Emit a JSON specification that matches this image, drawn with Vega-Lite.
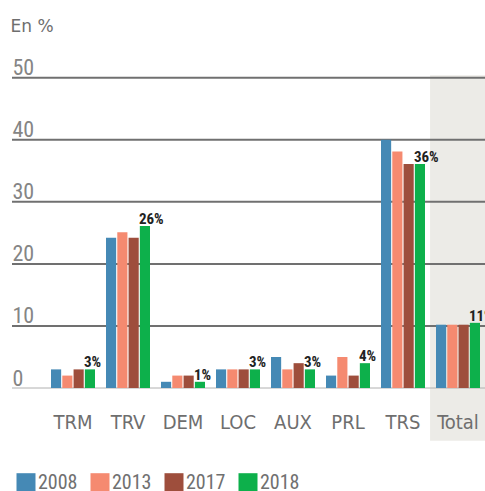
{
  "$schema": "https://vega.github.io/schema/vega-lite/v6.json",
  "width": 473.5,
  "height": 310.3,
  "autosize": {"type": "none"},
  "padding": {"left": 12, "top": 77.7, "right": 0, "bottom": 103},
  "background": "white",
  "config": {"view": {"stroke": null}},
  "datasets": {
    "bars": [
      {"cat": "TRM", "year": "2008", "value": 3.0},
      {"cat": "TRM", "year": "2013", "value": 2.0},
      {"cat": "TRM", "year": "2017", "value": 3.0},
      {"cat": "TRM", "year": "2018", "value": 3.0, "label": "3%"},
      {"cat": "TRV", "year": "2008", "value": 24.2},
      {"cat": "TRV", "year": "2013", "value": 25.1},
      {"cat": "TRV", "year": "2017", "value": 24.2},
      {"cat": "TRV", "year": "2018", "value": 26.1, "label": "26%"},
      {"cat": "DEM", "year": "2008", "value": 1.0},
      {"cat": "DEM", "year": "2013", "value": 2.0},
      {"cat": "DEM", "year": "2017", "value": 2.0},
      {"cat": "DEM", "year": "2018", "value": 1.0, "label": "1%"},
      {"cat": "LOC", "year": "2008", "value": 3.0},
      {"cat": "LOC", "year": "2013", "value": 3.0},
      {"cat": "LOC", "year": "2017", "value": 3.0},
      {"cat": "LOC", "year": "2018", "value": 3.0, "label": "3%"},
      {"cat": "AUX", "year": "2008", "value": 5.0},
      {"cat": "AUX", "year": "2013", "value": 3.0},
      {"cat": "AUX", "year": "2017", "value": 4.0},
      {"cat": "AUX", "year": "2018", "value": 3.0, "label": "3%"},
      {"cat": "PRL", "year": "2008", "value": 2.0},
      {"cat": "PRL", "year": "2013", "value": 5.0},
      {"cat": "PRL", "year": "2017", "value": 2.0},
      {"cat": "PRL", "year": "2018", "value": 4.0, "label": "4%"},
      {"cat": "TRS", "year": "2008", "value": 40.0},
      {"cat": "TRS", "year": "2013", "value": 38.1},
      {"cat": "TRS", "year": "2017", "value": 36.1},
      {"cat": "TRS", "year": "2018", "value": 36.1, "label": "36%"},
      {"cat": "Total", "year": "2008", "value": 10.2},
      {"cat": "Total", "year": "2013", "value": 10.2},
      {"cat": "Total", "year": "2017", "value": 10.2},
      {"cat": "Total", "year": "2018", "value": 10.5, "label": "11%"}
    ],
    "grid": [{"v": 0}, {"v": 10}, {"v": 20}, {"v": 30}, {"v": 40}, {"v": 50}]
  },
  "layer": [
    {
      "data": {"values": [{"cat": "Total"}]},
      "mark": {"type": "bar", "color": "#ECEBE7", "width": {"band": 1.27}},
      "encoding": {
        "x": {"field": "cat", "type": "nominal",
              "scale": {"domain": ["TRM", "TRV", "DEM", "LOC", "AUX", "PRL", "TRS", "Total"], "range": [33.5, 473.5], "paddingInner": 0.2, "paddingOuter": 0.1}},
        "y": {"datum": 50.4, "type": "quantitative", "scale": {"domain": [0, 50], "nice": false}},
        "y2": {"datum": -8.5}
      }
    },
    {
      "data": {"name": "grid"},
      "mark": {"type": "rule", "color": "#707070"},
      "encoding": {
        "x": {"value": 0},
        "x2": {"value": "width"},
        "y": {"field": "v", "type": "quantitative"},
        "strokeWidth": {"condition": {"test": "datum.v === 0", "value": 1}, "value": 2},
        "color": {"condition": {"test": "datum.v === 0", "value": "#b0b0b0"}, "value": "#707070"}
      }
    },
    {
      "data": {"name": "bars"},
      "mark": {"type": "bar"},
      "encoding": {
        "x": {"field": "cat", "type": "nominal",
              "scale": {"domain": ["TRM", "TRV", "DEM", "LOC", "AUX", "PRL", "TRS", "Total"], "range": [33.5, 473.5], "paddingInner": 0.2, "paddingOuter": 0.1},
              "axis": {"title": null, "domain": false, "ticks": false, "labelAngle": 0, "labelAlign": "center", "labelPadding": 40, "labelBaseline": "alphabetic", "zindex": 1,
                       "labelFont": "DejaVu Sans Condensed, DejaVu Sans", "labelFontSize": 20, "labelColor": "#6e6e6e"}},
        "xOffset": {"field": "year", "type": "nominal", "scale": {"domain": ["2008", "2013", "2017", "2018"], "paddingInner": 0.1, "paddingOuter": 0}},
        "y": {"field": "value", "type": "quantitative",
              "axis": {"values": [0, 10, 20, 30, 40, 50], "grid": false, "domain": false, "ticks": false,
                       "labelAlign": "left", "labelBaseline": "alphabetic", "labelPadding": 0, "labelOffset": -3,
                       "labelFont": "Liberation Sans Narrow, Roboto Condensed, DejaVu Sans Condensed, sans-serif", "labelFontSize": 22, "labelColor": "#858585",
                       "title": "En %", "titleAngle": 0, "titleX": -2, "titleY": -45.7, "titleAlign": "left", "titleBaseline": "alphabetic",
                       "titleFont": "DejaVu Sans", "titleFontSize": 17, "titleFontWeight": "normal", "titleColor": "#6e6e6e"}},
        "color": {"field": "year", "type": "nominal",
                  "scale": {"domain": ["2008", "2013", "2017", "2018"], "range": ["#4589B5", "#F58A70", "#9E4E3C", "#0DB04B"]},
                  "legend": {"orient": "none", "legendX": 4, "legendY": 395, "direction": "horizontal", "title": null,
                             "symbolType": "square", "symbolSize": 361, "symbolStrokeWidth": 0, "symbolOpacity": 1,
                             "labelFont": "Liberation Sans Narrow, Roboto Condensed, DejaVu Sans Condensed, sans-serif", "labelFontSize": 20, "labelColor": "#707070",
                             "labelOffset": 2, "columnPadding": 12}}
      }
    },
    {
      "data": {"name": "bars"},
      "transform": [{"filter": "datum.year === '2018'"}],
      "mark": {"type": "text", "align": "left", "baseline": "alphabetic", "dx": -6, "dy": -2,
               "font": "Liberation Sans Narrow, Roboto Condensed, DejaVu Sans Condensed, sans-serif", "fontWeight": "bold", "fontSize": 15, "color": "#222222"},
      "encoding": {
        "x": {"field": "cat", "type": "nominal",
              "scale": {"domain": ["TRM", "TRV", "DEM", "LOC", "AUX", "PRL", "TRS", "Total"], "range": [33.5, 473.5], "paddingInner": 0.2, "paddingOuter": 0.1}},
        "xOffset": {"field": "year", "type": "nominal", "scale": {"domain": ["2008", "2013", "2017", "2018"], "paddingInner": 0.1, "paddingOuter": 0}},
        "y": {"field": "value", "type": "quantitative"},
        "text": {"field": "label"}
      }
    }
  ]
}
